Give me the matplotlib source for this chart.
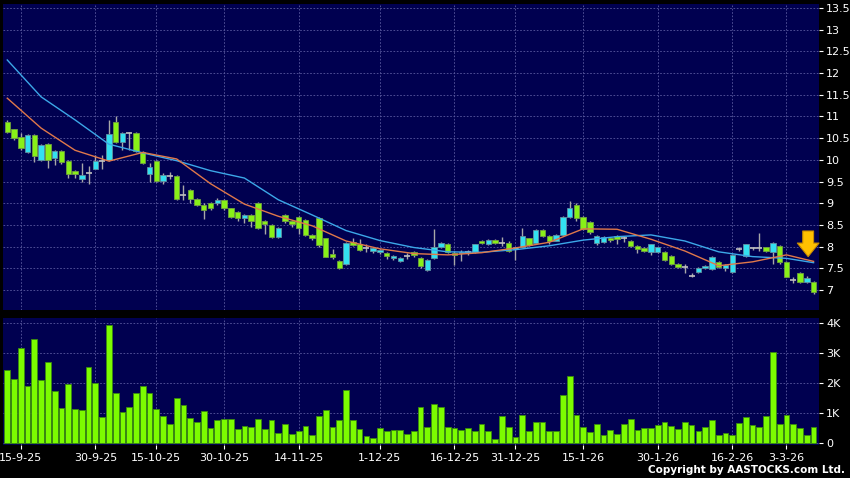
import matplotlib
matplotlib.use('Agg')
import matplotlib.pyplot as plt
import numpy as np

# daily candles, oldest first
opens = [10.88, 10.70, 10.52, 10.19, 10.57, 10.00, 10.36, 10.05, 10.21, 9.97,
         9.74, 9.55, 9.70, 9.80, 9.98, 10.00, 10.88, 10.42, 10.61, 10.61,
         10.19, 9.67, 9.97, 9.52, 9.63, 9.63, 9.20, 9.30, 9.09, 8.97,
         9.00, 9.00, 9.07, 8.88, 8.80, 8.67, 8.73, 9.00, 8.59, 8.50,
         8.23, 8.73, 8.59, 8.68, 8.61, 8.27, 8.65, 8.19, 7.82, 7.67,
         7.60, 8.11, 8.06, 7.96, 7.90, 7.88, 7.86, 7.74, 7.67, 7.79,
         7.88, 7.73, 7.46, 7.73, 7.98, 8.06, 7.86, 7.85, 7.87, 7.87,
         8.13, 8.06, 8.15, 8.08, 8.08, 7.95, 8.00, 8.19, 8.08, 8.38,
         8.25, 8.14, 8.27, 8.68, 8.97, 8.68, 8.57, 8.08, 8.11, 8.21,
         8.25, 8.19, 8.14, 8.01, 7.96, 7.88, 7.87, 7.87, 7.79, 7.60,
         7.54, 7.33, 7.41, 7.50, 7.48, 7.64, 7.50, 7.41, 7.95, 7.78,
         7.96, 7.96, 7.98, 7.88, 8.02, 7.65, 7.23, 7.40, 7.18, 7.19]
closes = [10.65, 10.50, 10.27, 10.57, 10.09, 10.34, 10.00, 10.21, 9.96, 9.67,
          9.67, 9.64, 9.70, 9.98, 9.98, 10.59, 10.40, 10.61, 10.61, 10.21,
          9.92, 9.83, 9.51, 9.64, 9.63, 9.10, 9.20, 9.09, 8.97, 8.84,
          8.88, 9.07, 8.88, 8.69, 8.67, 8.73, 8.58, 8.42, 8.51, 8.23,
          8.42, 8.58, 8.51, 8.42, 8.27, 8.19, 8.04, 7.77, 7.75, 7.51,
          8.08, 8.04, 7.92, 7.96, 7.97, 7.92, 7.78, 7.78, 7.73, 7.79,
          7.81, 7.56, 7.69, 7.98, 8.08, 7.87, 7.81, 7.88, 7.87, 8.05,
          8.08, 8.15, 8.09, 8.08, 7.90, 7.98, 8.24, 8.04, 8.38, 8.25,
          8.14, 8.27, 8.68, 8.88, 8.65, 8.40, 8.34, 8.25, 8.23, 8.15,
          8.18, 8.19, 8.02, 7.94, 7.90, 8.05, 7.98, 7.69, 7.60, 7.52,
          7.54, 7.33, 7.50, 7.55, 7.77, 7.52, 7.58, 7.81, 7.95, 8.05,
          7.96, 7.96, 7.90, 8.08, 7.65, 7.31, 7.23, 7.18, 7.28, 6.96]
highs = [10.92, 10.72, 10.62, 10.60, 10.60, 10.36, 10.38, 10.23, 10.23, 9.99,
         9.76, 9.92, 9.85, 10.10, 10.10, 10.92, 11.00, 10.63, 10.63, 10.63,
         10.21, 9.92, 10.00, 9.70, 9.72, 9.65, 9.41, 9.33, 9.12, 9.00,
         9.03, 9.12, 9.10, 8.90, 8.82, 8.76, 8.76, 9.02, 8.62, 8.52,
         8.45, 8.75, 8.62, 8.70, 8.64, 8.30, 8.68, 8.21, 7.95, 7.69,
         8.10, 8.20, 8.18, 8.05, 7.99, 7.95, 7.88, 7.80, 7.75, 7.85,
         7.90, 7.75, 7.71, 8.40, 8.10, 8.08, 7.90, 7.92, 7.92, 8.07,
         8.15, 8.17, 8.17, 8.22, 8.12, 8.00, 8.42, 8.21, 8.40, 8.40,
         8.27, 8.29, 8.70, 9.05, 9.00, 8.70, 8.60, 8.27, 8.25, 8.23,
         8.27, 8.25, 8.16, 8.03, 7.98, 8.07, 8.00, 7.89, 7.81, 7.62,
         7.60, 7.40, 7.52, 7.57, 7.79, 7.66, 7.60, 7.83, 7.98, 8.07,
         8.00, 8.31, 8.00, 8.10, 8.04, 7.67, 7.30, 7.42, 7.32, 7.21]
lows = [10.62, 10.45, 10.22, 10.15, 9.96, 9.97, 9.82, 9.87, 9.90, 9.57,
        9.57, 9.50, 9.45, 9.78, 9.80, 9.98, 10.38, 10.23, 10.23, 10.19,
        9.90, 9.50, 9.48, 9.45, 9.55, 9.08, 9.07, 9.00, 8.93, 8.64,
        8.85, 8.95, 8.85, 8.66, 8.60, 8.55, 8.45, 8.40, 8.30, 8.20,
        8.20, 8.55, 8.45, 8.30, 8.25, 8.15, 8.00, 7.75, 7.72, 7.48,
        7.58, 8.02, 7.90, 7.88, 7.85, 7.84, 7.72, 7.70, 7.64, 7.72,
        7.76, 7.50, 7.44, 7.72, 7.96, 7.85, 7.58, 7.68, 7.80, 7.85,
        8.05, 8.04, 8.05, 8.02, 7.88, 7.69, 7.98, 8.02, 8.05, 8.23,
        8.05, 8.12, 8.25, 8.66, 8.60, 8.38, 8.30, 8.03, 8.09, 8.10,
        8.05, 8.10, 8.00, 7.85, 7.88, 7.80, 7.85, 7.67, 7.58, 7.50,
        7.40, 7.30, 7.39, 7.48, 7.46, 7.50, 7.45, 7.39, 7.90, 7.76,
        7.93, 7.90, 7.88, 7.60, 7.60, 7.29, 7.16, 7.16, 7.16, 6.92]

# volume in thousands of shares
volume = [2.43, 2.16, 3.18, 1.90, 3.48, 2.12, 2.71, 1.73, 1.16, 1.98,
          1.15, 1.10, 2.54, 2.01, 0.88, 3.93, 1.68, 1.04, 1.21, 1.66,
          1.92, 1.68, 1.15, 0.92, 0.64, 1.51, 1.26, 0.83, 0.71, 1.09,
          0.52, 0.79, 0.80, 0.80, 0.47, 0.59, 0.54, 0.80, 0.46, 0.78,
          0.34, 0.64, 0.32, 0.42, 0.57, 0.28, 0.92, 1.10, 0.54, 0.79,
          1.77, 0.79, 0.46, 0.24, 0.17, 0.52, 0.42, 0.45, 0.45, 0.31,
          0.42, 1.21, 0.55, 1.30, 1.20, 0.55, 0.50, 0.45, 0.50, 0.40,
          0.65, 0.40, 0.15, 0.90, 0.55, 0.22, 0.95, 0.40, 0.72, 0.70,
          0.40, 0.40, 1.60, 2.25, 0.95, 0.55, 0.38, 0.65, 0.28, 0.45,
          0.30, 0.65, 0.80, 0.45, 0.52, 0.50, 0.60, 0.72, 0.58, 0.48,
          0.70, 0.60, 0.42, 0.55, 0.78, 0.28, 0.35, 0.28, 0.68, 0.87,
          0.60, 0.55, 0.90, 3.05, 0.65, 0.95, 0.65, 0.50, 0.28, 0.55]

# moving averages every 5 sessions
ma_idx = [0, 5, 10, 15, 20, 25, 30, 35, 40, 45, 50, 55, 60, 65, 70, 75,
          80, 85, 90, 95, 100, 105, 110, 115, 119]
ma10 = [11.42, 10.73, 10.22, 9.97, 10.17, 10.02, 9.45, 8.98, 8.70, 8.48,
        8.13, 7.95, 7.84, 7.81, 7.86, 7.97, 8.10, 8.41, 8.40, 8.17,
        7.90, 7.56, 7.65, 7.81, 7.66]
ma20 = [12.30, 11.45, 10.92, 10.36, 10.16, 9.98, 9.75, 9.58, 9.08, 8.73,
        8.37, 8.14, 7.98, 7.88, 7.87, 7.93, 8.02, 8.15, 8.23, 8.27,
        8.13, 7.88, 7.77, 7.73, 7.63]

tick_idx = [2, 13, 22, 32, 43, 55, 66, 75, 85, 96, 107, 115]
tick_labels = ['15-9-25', '30-9-25', '15-10-25', '30-10-25', '14-11-25', '1-12-25',
               '16-12-25', '31-12-25', '15-1-26', '30-1-26', '16-2-26', '3-3-26']

BG = '#000050'
GRID = '#5a5aa0'
UP = '#33e0f0'
DOWN = '#88f018'
DOJI = '#c0c0c0'


def style(ax):
    ax.set_facecolor(BG)
    for s in ax.spines.values():
        s.set_visible(False)
    ax.grid(True, color=GRID, linestyle=(0, (2, 2)), linewidth=0.6)
    ax.set_axisbelow(True)
    ax.yaxis.tick_right()
    ax.tick_params(axis='y', colors='white', length=3, width=0.8,
                   labelsize=8, pad=2)


def main():
    o = np.array(opens)
    c = np.array(closes)
    x = np.arange(len(o))

    fig = plt.figure(figsize=(8.5, 4.78), dpi=100, facecolor='black')
    ax = fig.add_axes([3/850, 1 - 310/478, 816/850, 306/478])
    axv = fig.add_axes([3/850, 1 - 445/478, 816/850, 127/478])

    # price panel
    style(ax)
    ax.vlines(x, lows, highs, color='#a8a8a8', linewidth=1, zorder=2)
    up = c > o
    down = c < o
    flat = c == o
    ax.bar(x[up], (c - o)[up], bottom=o[up], width=0.8, color=UP,
           edgecolor='#6090a0', linewidth=0.6, zorder=3)
    ax.bar(x[down], (c - o)[down], bottom=o[down], width=0.8, color=DOWN,
           edgecolor='#70a040', linewidth=0.6, zorder=3)
    ax.hlines(c[flat], x[flat] - 0.45, x[flat] + 0.45, color=DOJI,
              linewidth=1.2, zorder=3)
    ax.plot(ma_idx, ma20, color='#3ca8e8', linewidth=1, zorder=4)
    ax.plot(ma_idx, ma10, color='#e0784a', linewidth=1, zorder=4)

    ax.annotate('', xy=(118.2, 7.77), xytext=(118.2, 8.36),
                arrowprops=dict(arrowstyle='simple,head_length=0.75,head_width=1.2,tail_width=0.6',
                                fc='#ffc000', ec='#c88a00', lw=0.8,
                                mutation_scale=13, shrinkA=0, shrinkB=0),
                zorder=6)

    ax.set_xlim(-0.63, 119.8)
    ax.set_ylim(6.54, 13.59)
    ax.set_yticks(np.arange(7, 13.51, 0.5))
    ax.set_yticklabels(['%g' % v for v in np.arange(7, 13.51, 0.5)])
    ax.set_xticks(tick_idx)
    ax.tick_params(axis='x', bottom=False, labelbottom=False)

    # volume panel
    style(axv)
    axv.bar(x, volume, width=0.85, color='#7cfc00', edgecolor='#3a8a10',
            linewidth=0.6, zorder=3)
    axv.set_xlim(-0.63, 119.8)
    axv.set_ylim(-0.06, 4.18)
    axv.set_yticks([0, 1, 2, 3, 4])
    axv.set_yticklabels(['0', '1K', '2K', '3K', '4K'])
    axv.set_xticks(tick_idx)
    axv.set_xticklabels(tick_labels)
    axv.tick_params(axis='x', colors='white', length=3, width=0.8,
                    labelsize=8, pad=3)

    fig.text(845/850, 1 - 470/478, 'Copyright by AASTOCKS.com Ltd.',
             color='white', ha='right', va='center', fontsize=7.5,
             fontweight='bold')

    fig.savefig('out.png', dpi=100, facecolor='black')


if __name__ == '__main__':
    main()
